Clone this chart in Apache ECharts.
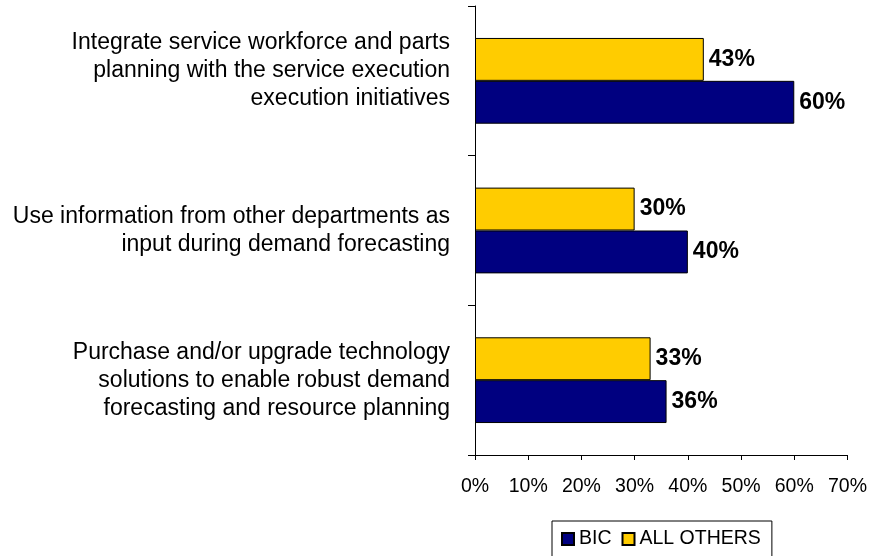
<!DOCTYPE html>
<html>
<head>
<meta charset="utf-8">
<script src="https://cdn.jsdelivr.net/npm/echarts@6/dist/echarts.min.js"></script>
<style>
  html, body { margin: 0; padding: 0; background: #fff; }
  #chart { width: 870px; height: 556px; }
</style>
</head>
<body>
<div id="chart"></div>
<script>
// Initiatives, listed top to bottom
var categories = [
  'Integrate service workforce and parts\nplanning with the service execution\nexecution initiatives',
  'Use information from other departments as\ninput during demand forecasting',
  'Purchase and/or upgrade technology\nsolutions to enable robust demand\nforecasting and resource planning'
];
var seriesNames = ['BIC', 'ALL OTHERS'];
var bicValues = [60, 40, 36];
var othersValues = [43, 30, 33];
var xTicks = [0, 10, 20, 30, 40, 50, 60, 70];

var FONT = '"Liberation Sans", Arial, sans-serif';

var chart = echarts.init(document.getElementById('chart'), null, { renderer: 'canvas' });

var labelStyle = {
  show: true,
  position: 'right',
  distance: 5,
  formatter: '{c}%',
  color: '#000',
  fontFamily: FONT,
  fontWeight: 'bold',
  fontSize: 23
};

chart.setOption({
  animation: false,
  backgroundColor: '#fff',
  grid: { left: 475, right: 18.3, top: 6, bottom: 101, containLabel: false },
  legend: {
    left: 552,
    top: 521,
    padding: [8, 11, 10, 9],
    borderColor: '#000',
    borderWidth: 1,
    itemWidth: 12,
    itemHeight: 12,
    itemGap: 10,
    icon: 'rect',
    data: seriesNames,
    textStyle: { fontFamily: FONT, fontSize: 19.5, color: '#000' }
  },
  xAxis: {
    type: 'value',
    min: xTicks[0],
    max: xTicks[xTicks.length - 1],
    interval: xTicks[1] - xTicks[0],
    splitLine: { show: false },
    axisLine: { show: true, lineStyle: { color: '#000', width: 1 } },
    axisTick: { show: true, length: 5, lineStyle: { color: '#000' } },
    axisLabel: {
      margin: 22,
      formatter: '{value}%',
      color: '#000',
      fontFamily: FONT,
      fontSize: 19.5
    }
  },
  yAxis: {
    type: 'category',
    inverse: true,
    data: categories,
    axisLine: { show: true, lineStyle: { color: '#000', width: 1 } },
    axisTick: { show: true, length: 7, lineStyle: { color: '#000' } },
    axisLabel: {
      margin: 25,
      color: '#000',
      fontFamily: FONT,
      fontSize: 23,
      lineHeight: 28,
      align: 'right',
      // the first label sits a little above its band centre
      formatter: function (value, index) {
        return index === 0 ? value + '\n{gap| }' : value;
      },
      rich: { gap: { fontSize: 1, lineHeight: 20 } }
    }
  },
  // ALL OTHERS is drawn first so that it lands above BIC in each band
  series: [
    {
      name: seriesNames[1],
      type: 'bar',
      data: othersValues,
      barGap: '0%',
      barCategoryGap: '42.7%',
      itemStyle: { color: '#FFCC00', borderColor: '#000', borderWidth: 1 },
      label: labelStyle
    },
    {
      name: seriesNames[0],
      type: 'bar',
      data: bicValues,
      barGap: '0%',
      barCategoryGap: '42.7%',
      itemStyle: { color: '#000080', borderColor: '#000', borderWidth: 1 },
      label: labelStyle
    }
  ]
});
</script>
</body>
</html>
